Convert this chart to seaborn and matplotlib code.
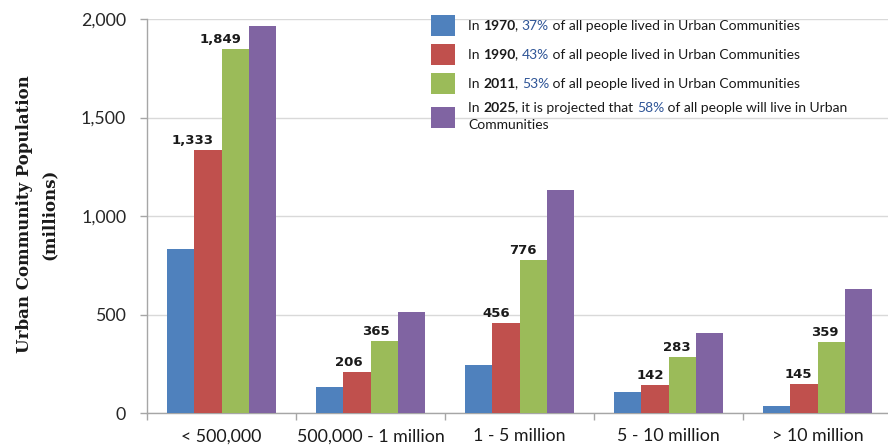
import matplotlib
matplotlib.use("Agg")
import matplotlib.pyplot as plt
import seaborn as sns
import pandas as pd

categories = ["< 500,000", "500,000 - 1 million", "1 - 5 million", "5 - 10 million", "> 10 million"]
years = ["1970", "1990", "2011", "2025"]
pop_1970 = [833, 130, 245, 108, 38]
pop_1990 = [1333, 206, 456, 142, 145]
pop_2011 = [1849, 365, 776, 283, 359]
pop_2025 = [1965, 515, 1130, 405, 628]
shares = ["37%", "43%", "53%", "58%"]
yticks = [0, 500, 1000, 1500, 2000]
ytick_labels = ["0", "500", "1,000", "1,500", "2,000"]

colors = ["#4F81BD", "#C0504D", "#9BBB59", "#8064A2"]

rows = []
for yr, vals in zip(years, [pop_1970, pop_1990, pop_2011, pop_2025]):
    for c, v in zip(categories, vals):
        rows.append({"size": c, "year": yr, "pop": v})
df = pd.DataFrame(rows)

sns.set_theme(style="white")
plt.rcParams["font.family"] = ["Lato", "DejaVu Sans"]

W, H = 888, 446
fig = plt.figure(figsize=(W / 100, H / 100), dpi=100)
ax_left, ax_right, ax_top, ax_bottom = 147, 892, 19, 413
ax = fig.add_axes([ax_left / W, 1 - ax_bottom / H, (ax_right - ax_left) / W, (ax_bottom - ax_top) / H])

sns.barplot(data=df, x="size", y="pop", hue="year", order=categories, hue_order=years,
            palette=colors, width=0.725, gap=0, ax=ax, legend=False, linewidth=0,
            saturation=1, zorder=3)

ax.set_xlim(-0.5, len(categories) - 0.5)
ax.set_ylim(0, 2000)
ax.set_yticks(yticks)
ax.set_yticklabels(ytick_labels)
ax.yaxis.grid(True, color="#d9d9d9", linewidth=1, zorder=0)
ax.xaxis.grid(False)
ax.set_axisbelow(True)
for s in ["top", "right"]:
    ax.spines[s].set_visible(False)
for s in ["left", "bottom"]:
    ax.spines[s].set_color("#a6a6a6")
    ax.spines[s].set_linewidth(1)

ax.set_xlabel("")
ax.set_ylabel("")
ax.tick_params(axis="y", which="major", length=5, width=1, color="#a6a6a6", pad=10,
               labelsize=12.8, labelcolor="#262626", left=True, direction="out")
ax.tick_params(axis="x", which="major", length=0, pad=11, labelsize=12.8, labelcolor="#1a1a1a")
ax.set_xticks([i - 0.5 for i in range(len(categories) + 1)], minor=True)
ax.tick_params(axis="x", which="minor", length=5, width=1, color="#a6a6a6", bottom=True, direction="out")

# data labels for 1990 and 2011
label_dx = [-15, -8, -10, -5, -6]
for cont, vals in zip(ax.containers[1:3], [pop_1990, pop_2011]):
    for i, (bar, v) in enumerate(zip(cont, vals)):
        ax.annotate(f"{v:,}", xy=(bar.get_x() + bar.get_width() / 2, bar.get_height()),
                    xytext=(label_dx[i], 3), textcoords="offset pixels",
                    ha="center", va="bottom", fontsize=9.5, fontweight="bold",
                    fontfamily="DejaVu Sans", color="#1a1a1a", zorder=5)

fig.text(37 / W, 1 - 214 / H, "Urban Community Population\n(millions)", rotation=90,
         ha="center", va="center", multialignment="center", fontfamily="DejaVu Serif",
         fontweight="bold", fontsize=12, color="#1a1a1a", linespacing=1.6)

# legend (rich-text labels drawn as chained annotations)
leg_fs = 10
leg_placeholders = [" ", " ", " ", " \n "]
handles = [plt.Rectangle((0, 0), 1, 1, facecolor=c, edgecolor="none") for c in colors]
fs_px = leg_fs * 100 / 72
hh = (21 / fs_px - 0.245) / 0.65
leg = fig.legend(handles, leg_placeholders, loc="upper left", bbox_to_anchor=(431 / W, 1 - 15 / H),
                 bbox_transform=fig.transFigure, frameon=False, fontsize=leg_fs,
                 handlelength=24 / fs_px, handleheight=hh, handletextpad=13 / fs_px,
                 labelspacing=8 / fs_px, borderpad=0, borderaxespad=0)
for t in leg.get_texts():
    t.set_linespacing(1.5)

blue = "#2F5597"
dark = "#1a1a1a"
pieces_list = [
    [("In ", dark, "normal"), (years[0], dark, "bold"), (", ", dark, "normal"), (shares[0], blue, "normal"),
     (" of all people lived in Urban Communities", dark, "normal")],
    [("In ", dark, "normal"), (years[1], dark, "bold"), (", ", dark, "normal"), (shares[1], blue, "normal"),
     (" of all people lived in Urban Communities", dark, "normal")],
    [("In ", dark, "normal"), (years[2], dark, "bold"), (", ", dark, "normal"), (shares[2], blue, "normal"),
     (" of all people lived in Urban Communities", dark, "normal")],
    [("In ", dark, "normal"), (years[3], dark, "bold"), (", it is projected that ", dark, "normal"),
     (shares[3], blue, "normal"), (" of all people will live in Urban", dark, "normal")],
]
for k, (t, pieces) in enumerate(zip(leg.get_texts(), pieces_list)):
    if k < 3:
        anchor_xy, va = (0, 0), "bottom"
    else:
        anchor_xy, va = (0, 1), "top"
    prev = None
    for txt, col, wt in pieces:
        if prev is None:
            prev = plt.Annotation(txt, xy=anchor_xy, xycoords=t, ha="left", va=va,
                                  fontsize=leg_fs, color=col, fontweight=wt)
        else:
            prev = plt.Annotation(txt, xy=(1, 0), xycoords=prev, ha="left", va="bottom",
                                  fontsize=leg_fs, color=col, fontweight=wt)
        prev.set_zorder(10)
        fig.add_artist(prev)
    if k == 3:
        a = plt.Annotation("Communities", xy=(0, 0), xycoords=t, ha="left", va="bottom",
                           fontsize=leg_fs, color=dark)
        a.set_zorder(10)
        fig.add_artist(a)

fig.savefig("out.png", dpi=100)
